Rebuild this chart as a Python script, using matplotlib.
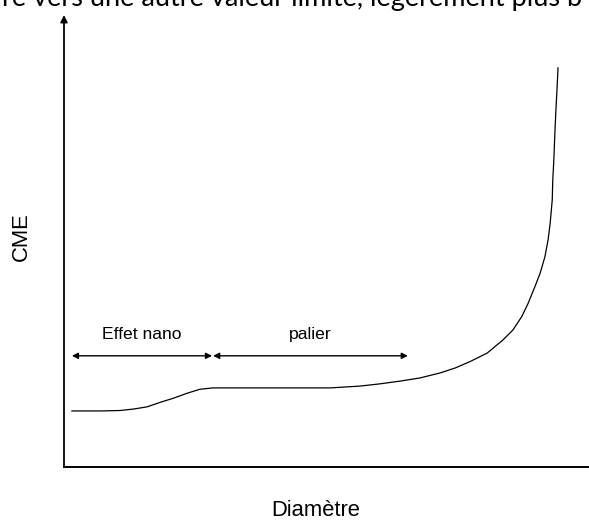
import matplotlib
matplotlib.use('Agg')
from matplotlib import pyplot as plt

diametre = [1.5, 6.9, 10.7, 13.1, 15.8, 18.3, 20.8, 23.4, 25.9, 28.4, 31.1,
            37.3, 45.0, 50.7, 56.4, 60.2, 64.0, 67.8, 71.6, 74.5, 77.3, 80.6,
            83.6, 85.5, 87.2, 88.4, 89.7, 90.7, 91.6, 92.2, 92.6, 93.0, 93.1,
            93.3, 93.5, 93.7, 93.9, 94.1]
cme = [12.4, 12.4, 12.5, 12.8, 13.3, 14.3, 15.2, 16.3, 17.2, 17.5, 17.5,
       17.5, 17.5, 17.5, 17.9, 18.4, 19.0, 19.7, 20.8, 21.9, 23.3, 25.2,
       28.1, 30.3, 33.3, 36.2, 39.9, 42.9, 46.5, 50.2, 53.9, 59.1, 63.5,
       67.9, 73.9, 79.0, 83.4, 88.3]

zones = ['Effet nano', 'palier']
zone_debut = [1.5, 28.4]
zone_fin = [28.2, 65.5]
zone_y = 24.6

texte_haut = 're vers une autre valeur limite, légèrement plus b'

fig = plt.figure(figsize=(5.89, 5.21), dpi=100)
ax = fig.add_axes([64/589, 54/521, 525/589, 452/521])
ax.set_xlim(0, 100)
ax.set_ylim(0, 100)
for s in ['top', 'right', 'left']:
    ax.spines[s].set_visible(False)
ax.spines['bottom'].set_linewidth(1.4)
ax.set_xticks([])
ax.set_yticks([])

# axe vertical avec flèche
ax.annotate('', xy=(0, 100), xytext=(0, 0), annotation_clip=False,
            arrowprops=dict(arrowstyle='-|>', lw=1.3, color='black',
                            mutation_scale=10, shrinkA=0, shrinkB=0))

ax.plot(diametre, cme, color='black', lw=0.9)

for nom, a, b in zip(zones, zone_debut, zone_fin):
    ax.annotate('', xy=(b, zone_y), xytext=(a, zone_y),
                arrowprops=dict(arrowstyle='<|-|>', lw=1.0, color='black',
                                mutation_scale=9, shrinkA=0, shrinkB=0))
    ax.text((a + b) / 2, zone_y + 3.7, nom, ha='center', va='baseline',
            fontsize=12.6, family='Liberation Sans')

fig.text(21/589, 1 - 237/521, 'CME', rotation=90, ha='center', va='center',
         fontsize=15.8, family='Liberation Sans')
fig.text(316/589, 1 - 516/521, 'Diamètre', ha='center', va='baseline',
         fontsize=15.8, family='Liberation Sans')
fig.text(2/589, 1 - 6/521, texte_haut, ha='left', va='baseline',
         fontsize=19.5, family='Lato')

fig.savefig('out.png', dpi=100)
